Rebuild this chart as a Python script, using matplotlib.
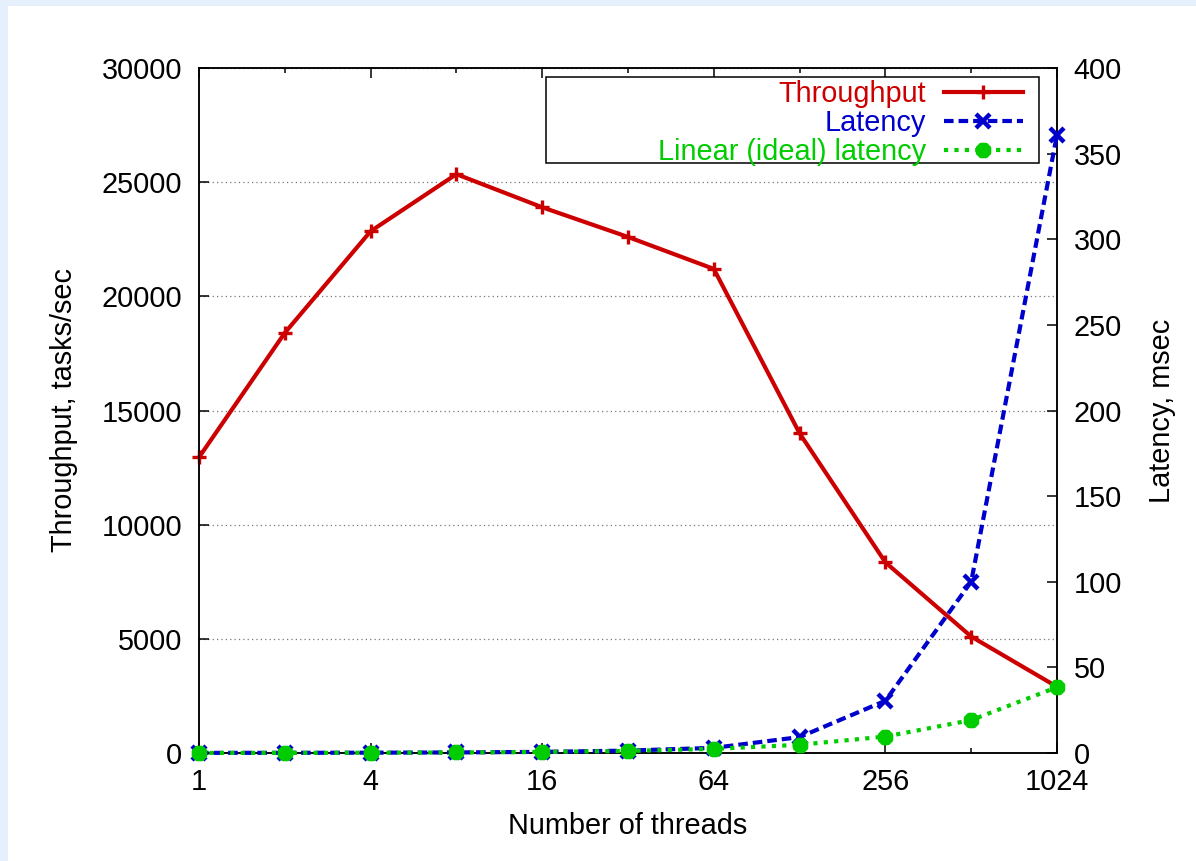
import matplotlib
matplotlib.use("Agg")
import matplotlib.pyplot as plt
from matplotlib.patches import Rectangle
from matplotlib.ticker import FixedLocator, FixedFormatter, NullFormatter

plt.rcParams['font.family'] = ['Liberation Sans', 'DejaVu Sans']

# ---- data ----
threads = [1, 2, 4, 8, 16, 32, 64, 128, 256, 512, 1024]
throughput = [12950, 18400, 22850, 25350, 23900, 22600, 21200, 14000, 8350, 5100, 2900]
latency = [0.08, 0.11, 0.18, 0.32, 0.67, 1.4, 3.0, 9.3, 30.5, 100, 361]
linear_latency = [0.0375, 0.075, 0.15, 0.3, 0.6, 1.2, 2.4, 4.8, 9.6, 19.2, 38.4]

x_major = [1, 4, 16, 64, 256, 1024]
x_major_labels = ["1", "4", "16", "64", "256", "1024"]
x_minor = [2, 8, 32, 128, 512]
y_left_ticks = [0, 5000, 10000, 15000, 20000, 25000, 30000]
y_right_ticks = [0, 50, 100, 150, 200, 250, 300, 350, 400]

series_names = ["Throughput", "Latency", "Linear (ideal) latency"]
RED, BLUE, GREEN = "#cc0000", "#0000cc", "#00cc00"

W, H = 1196, 861
fig = plt.figure(figsize=(W / 100, H / 100), dpi=100, facecolor="#e6f0fc")
bg = Rectangle((8 / W, 0), 1 - 8 / W, 1 - 6 / H, transform=fig.transFigure,
               facecolor="white", edgecolor="none", zorder=-10)
fig.patches.append(bg)

L, R, T, B = 199, 1057, 68, 753
ax = fig.add_axes([L / W, 1 - B / H, (R - L) / W, (B - T) / H])
ax.set_facecolor("none")
ax2 = ax.twinx()
ax2.set_facecolor("none")

FS = 20.8
lw = 3.0

h1, = ax.plot(threads, throughput, color=RED, lw=lw, marker="+", ms=10, mew=2.4,
              label=series_names[0], zorder=3, clip_on=False)
h2, = ax2.plot(threads, latency, color=BLUE, lw=lw, ls=(0, (2.3, 1.2)), marker="x", ms=10, mew=3.2,
               label=series_names[1], zorder=3, clip_on=False)
h3, = ax2.plot(threads, linear_latency, color=GREEN, lw=lw, ls=(0, (1, 1.5)), marker=(8, 2, 0),
               ms=11, mew=4, label=series_names[2], zorder=4, clip_on=False)

ax.set_xscale("log", base=2)
ax.set_xlim(1, 1024)
ax.set_ylim(0, 30000)
ax2.set_ylim(0, 400)

ax.xaxis.set_major_locator(FixedLocator(x_major))
ax.xaxis.set_major_formatter(FixedFormatter(x_major_labels))
ax.xaxis.set_minor_locator(FixedLocator(x_minor))
ax.xaxis.set_minor_formatter(NullFormatter())
ax.yaxis.set_major_locator(FixedLocator(y_left_ticks))
ax.yaxis.set_minor_locator(FixedLocator([]))
ax2.yaxis.set_major_locator(FixedLocator(y_right_ticks))
ax2.yaxis.set_minor_locator(FixedLocator([]))

ax.tick_params(axis="x", which="major", direction="in", length=7, width=1.1, top=True,
               labelsize=FS, pad=10.5)
ax.tick_params(axis="x", which="minor", direction="in", length=3.5, width=1.1, top=True)
ax.tick_params(axis="y", which="major", direction="in", length=7, width=1.1, right=False,
               labelsize=FS, pad=12)
ax2.tick_params(axis="y", which="major", direction="in", length=7, width=1.1,
                labelsize=FS, pad=12)

for a in (ax, ax2):
    for s in a.spines.values():
        s.set_linewidth(1.1)
        s.set_color("black")

ax.yaxis.grid(True, linestyle=(0, (1, 2.5)), color="#777777", lw=0.9)
ax.set_axisbelow(True)

ax.set_xlabel("Number of threads", fontsize=FS, va="center")
ax.xaxis.set_label_coords(0.5, (B - 826) / (B - T))
ax.set_ylabel("Throughput, tasks/sec", fontsize=FS, va="center")
ax.yaxis.set_label_coords((64 - L) / (R - L), 0.5)
ax2.set_ylabel("Latency, msec", fontsize=FS, va="center", rotation=90)
ax2.yaxis.set_label_coords((1162 - L) / (R - L), 0.5)

# legend box
kx0, kx1, ky0, ky1 = 546, 1039, 77, 163
ax2.add_patch(Rectangle(((kx0 - L) / (R - L), (B - ky1) / (B - T)),
                        (kx1 - kx0) / (R - L), (ky1 - ky0) / (B - T),
                        transform=ax2.transAxes, facecolor="white", edgecolor="black",
                        lw=1.1, zorder=5, clip_on=False))
leg = ax2.legend(handles=[h1, h2, h3], loc="upper right",
                 bbox_to_anchor=((1023 - L) / (R - L), (B - 80) / (B - T)),
                 borderaxespad=0, borderpad=0, frameon=False, markerfirst=False,
                 fontsize=FS, handlelength=2.75, handletextpad=0.6, labelspacing=0.04,
                 labelcolor="linecolor")
leg.set_zorder(6)

fig.savefig("out.png", dpi=100, facecolor=fig.get_facecolor())
